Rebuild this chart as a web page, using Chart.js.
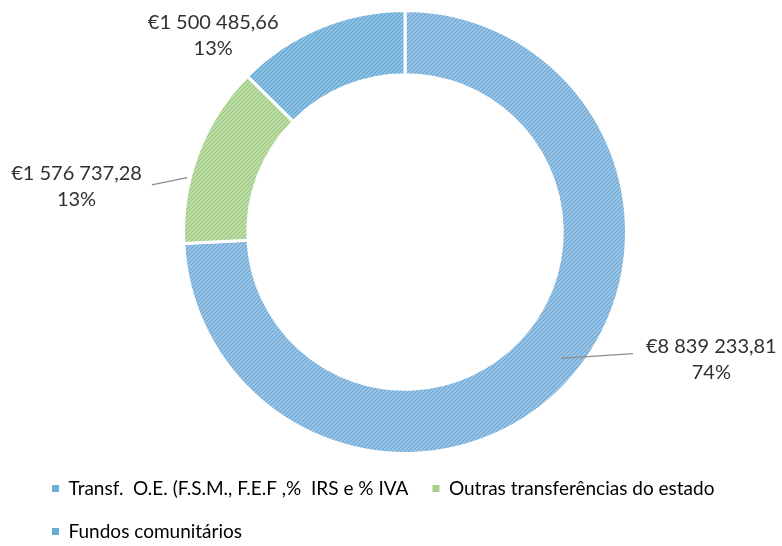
<!DOCTYPE html>
<html lang="pt">
<head>
<meta charset="UTF-8">
<title>Receitas</title>
<script src="https://cdn.jsdelivr.net/npm/chart.js"></script>
<style>
    html, body { margin: 0; padding: 0; background: #fff; overflow: hidden; }
    .container { position: relative; width: 782px; height: 551px; }
</style>
</head>
<body>
<div class="container"><canvas id="receitasChart"></canvas></div>
<script>
    const categories = ['Transf.  O.E. (F.S.M., F.E.F ,%  IRS e % IVA', 'Outras transferências do estado', 'Fundos comunitários'];
    const values = [8839233.81, 1576737.28, 1500485.66];

    // cores: base, traço da trama, cor da legenda
    const baseColors = ['#9ec9e8', '#c0dfab', '#94c6e6'];
    const hatchColors = ['#6ca4d3', '#9bc981', '#5fa3d0'];
    const legendColors = ['#6caed8', '#a6d08b', '#66aed4'];

    // posição dos rótulos, em fracções do raio exterior (Excel: rótulos arrastados)
    const labelPlacement = [
        { dx: 1.383, dy: 0.576, line: { angle: 129, r: 0.907, toDx: 1.029, toDy: 0.549 } },
        { dx: -1.483, dy: -0.204, line: { angle: 284, r: 1.014, toDx: -1.143, toDy: -0.213 } },
        { dx: -0.866, dy: -0.885, line: null }
    ];

    function hatch(base, stroke) {
        const c = document.createElement('canvas');
        c.width = 4; c.height = 4;
        const g = c.getContext('2d');
        g.fillStyle = base;
        g.fillRect(0, 0, 4, 4);
        g.strokeStyle = stroke;
        g.lineWidth = 1.2;
        g.beginPath();
        g.moveTo(-1, 5); g.lineTo(5, -1);
        g.moveTo(-1, 1); g.lineTo(1, -1);
        g.moveTo(3, 5); g.lineTo(5, 3);
        g.stroke();
        return g.createPattern(c, 'repeat');
    }

    function euro(v) {
        const parts = v.toFixed(2).split('.');
        const intPart = parts[0].replace(/\B(?=(\d{3})+(?!\d))/g, ' ');
        return '€' + intPart + ',' + parts[1];
    }

    const total = values.reduce((a, b) => a + b, 0);

    const labelsPlugin = {
        id: 'valueLabels',
        afterDatasetsDraw(chart) {
            const ctx = chart.ctx;
            const arcs = chart.getDatasetMeta(0).data;
            ctx.save();
            arcs.forEach((arc, i) => {
                const R = arc.outerRadius;
                const cx = arc.x, cy = arc.y;
                const p = labelPlacement[i];
                if (p.line) {
                    const a = (p.line.angle - 90) * Math.PI / 180;
                    ctx.strokeStyle = '#8c8c8c';
                    ctx.lineWidth = 1.3;
                    ctx.beginPath();
                    ctx.moveTo(cx + Math.cos(a) * p.line.r * R, cy + Math.sin(a) * p.line.r * R);
                    ctx.lineTo(cx + p.line.toDx * R, cy + p.line.toDy * R);
                    ctx.stroke();
                }
                const lx = cx + p.dx * R, ly = cy + p.dy * R;
                ctx.fillStyle = '#303030';
                ctx.font = '20px Lato';
                ctx.textAlign = 'center';
                ctx.textBaseline = 'middle';
                ctx.fillText(euro(values[i]), lx, ly - 13);
                ctx.fillText(Math.round(values[i] / total * 100) + '%', lx, ly + 13);
            });
            ctx.restore();
        }
    };

    const ctx = document.getElementById('receitasChart').getContext('2d');
    new Chart(ctx, {
        type: 'doughnut',
        data: {
            labels: categories,
            datasets: [{
                data: values,
                backgroundColor: baseColors.map((b, i) => hatch(b, hatchColors[i])),
                borderColor: '#ffffff',
                borderWidth: 3
            }]
        },
        options: {
            responsive: true,
            maintainAspectRatio: false,
            animation: false,
            cutout: '71%',
            layout: { padding: { top: 9, left: 28, right: 0, bottom: 0 } },
            plugins: {
                tooltip: { enabled: false },
                legend: {
                    position: 'bottom',
                    align: 'start',
                    labels: {
                        boxWidth: 7,
                        boxHeight: 7,
                        padding: 24,
                        color: '#303030',
                        font: { family: 'Lato', size: 19 },
                        generateLabels(chart) {
                            return categories.map((c, i) => ({
                                text: c,
                                fillStyle: legendColors[i],
                                strokeStyle: legendColors[i],
                                lineWidth: 0,
                                index: i
                            }));
                        }
                    }
                }
            }
        },
        plugins: [labelsPlugin]
    });
</script>
</body>
</html>
